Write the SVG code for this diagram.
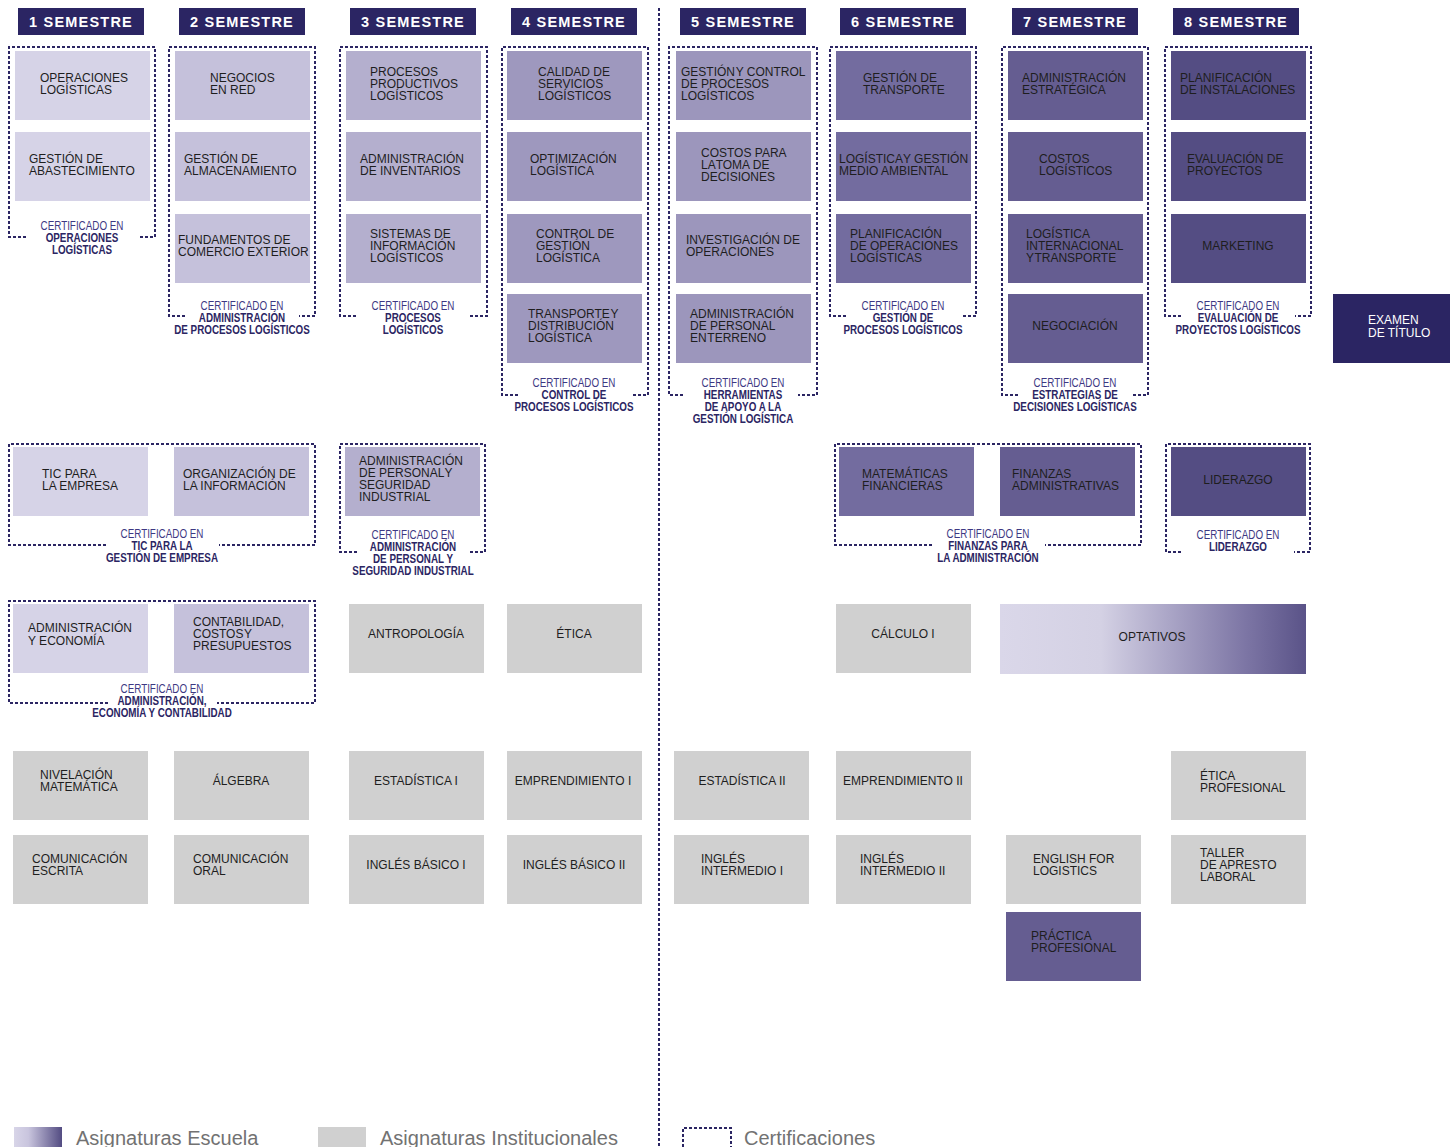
<svg xmlns="http://www.w3.org/2000/svg" width="1450" height="1147" viewBox="0 0 1450 1147">
<defs>
<linearGradient id="optGrad" x1="0" y1="0" x2="1" y2="0">
<stop offset="0" stop-color="#dad7e9"/>
<stop offset="0.33" stop-color="#d4d1e4"/>
<stop offset="0.55" stop-color="#aba6c7"/>
<stop offset="0.8" stop-color="#7d76a5"/>
<stop offset="1" stop-color="#5a5388"/>
</linearGradient>
<linearGradient id="legGrad" x1="0" y1="0" x2="1" y2="0">
<stop offset="0" stop-color="#d8d5e8"/>
<stop offset="0.3" stop-color="#c9c5de"/>
<stop offset="1" stop-color="#534c82"/>
</linearGradient>
<style>
.hdr{fill:#2b2563}
.ht{font-family:"Liberation Sans",Arial,sans-serif;font-weight:bold;font-size:14.5px;fill:#fff;text-anchor:middle;letter-spacing:1.2px}
.t{font-family:"Liberation Sans",Arial,sans-serif;font-size:12px;fill:#1e1e1e}
.tc{font-family:"Liberation Sans",Arial,sans-serif;font-size:12px;fill:#1e1e1e;text-anchor:middle}
.tw{font-family:"Liberation Sans",Arial,sans-serif;font-size:12px;fill:#fff}
.c1{fill:#d6d3e7}.c2{fill:#c5c1db}.c3{fill:#b4afce}.c4{fill:#9e98be}.c5{fill:#9c96bc}
.c6{fill:#736c9f}.c7{fill:#655d91}.c8{fill:#544d83}.gr{fill:#d0d0d0}.ex{fill:#2b2563}
.cert{fill:none;stroke:#2b2563;stroke-width:2;stroke-dasharray:3 2}
.ca{font-family:"Liberation Sans",Arial,sans-serif;font-size:12px;fill:#3d3883;text-anchor:middle}
.cb{font-family:"Liberation Sans",Arial,sans-serif;font-size:12px;font-weight:bold;fill:#2b2563;text-anchor:middle}
.leg{font-family:"Liberation Sans",Arial,sans-serif;font-size:20px;fill:#727272}
</style>
</defs>
<rect width="1450" height="1147" fill="#ffffff"/>

<!-- divider and certification frames -->
<g id="connectors">
<line x1="659" y1="8" x2="659" y2="1147" class="cert"/>
<path class="cert" d="M26,237 H9 V47 H155 V237 H140"/>
<path class="cert" d="M185,316 H169 V47 H315 V316 H299"/>
<path class="cert" d="M356,316 H340 V47 H487 V316 H470"/>
<path class="cert" d="M518,395 H502 V47 H648 V395 H631"/>
<path class="cert" d="M683,395 H669 V47 H817 V395 H798"/>
<path class="cert" d="M846,316 H830 V47 H976 V316 H961"/>
<path class="cert" d="M1018,395 H1002 V47 H1148 V395 H1131"/>
<path class="cert" d="M1181,316 H1165 V47 H1311 V316 H1295"/>
<path class="cert" d="M106,545 H9 V444 H315 V545 H219"/>
<path class="cert" d="M357,552 H340 V444 H485 V552 H468"/>
<path class="cert" d="M932,545 H835 V444 H1141 V545 H1045"/>
<path class="cert" d="M1181,552 H1166 V444 H1310 V552 H1294"/>
<path class="cert" d="M108,703 H9 V601 H315 V703 H217"/>
</g>

<!-- headers -->
<g id="headers">
<g id="h1"><rect class="hdr" x="18" y="8" width="126" height="27"/><text class="ht" x="81" y="27">1 SEMESTRE</text></g>
<g id="h2"><rect class="hdr" x="179" y="8" width="126" height="27"/><text class="ht" x="242" y="27">2 SEMESTRE</text></g>
<g id="h3"><rect class="hdr" x="350" y="8" width="126" height="27"/><text class="ht" x="413" y="27">3 SEMESTRE</text></g>
<g id="h4"><rect class="hdr" x="511" y="8" width="126" height="27"/><text class="ht" x="574" y="27">4 SEMESTRE</text></g>
<g id="h5"><rect class="hdr" x="680" y="8" width="126" height="27"/><text class="ht" x="743" y="27">5 SEMESTRE</text></g>
<g id="h6"><rect class="hdr" x="840" y="8" width="126" height="27"/><text class="ht" x="903" y="27">6 SEMESTRE</text></g>
<g id="h7"><rect class="hdr" x="1012" y="8" width="126" height="27"/><text class="ht" x="1075" y="27">7 SEMESTRE</text></g>
<g id="h8"><rect class="hdr" x="1173" y="8" width="126" height="27"/><text class="ht" x="1236" y="27">8 SEMESTRE</text></g>
</g>

<!-- semester 1 -->
<g id="n-operaciones-logisticas"><rect class="c1" x="15" y="51" width="135" height="69"/><text class="t"><tspan x="40" y="82">OPERACIONES</tspan><tspan x="40" y="94">LOGÍSTICAS</tspan></text></g>
<g id="n-gestion-abastecimiento"><rect class="c1" x="15" y="132" width="135" height="69"/><text class="t"><tspan x="29" y="163">GESTIÓN DE</tspan><tspan x="29" y="175">ABASTECIMIENTO</tspan></text></g>
<g id="cert-operaciones" transform="matrix(0.82,0,0,1,14.76,0)"><text class="ca" x="82" y="230">CERTIFICADO EN</text><text class="cb"><tspan x="82" y="242">OPERACIONES</tspan><tspan x="82" y="254">LOGÍSTICAS</tspan></text></g>

<!-- semester 2 -->
<g id="n-negocios-red"><rect class="c2" x="175" y="51" width="135" height="69"/><text class="t"><tspan x="210" y="82">NEGOCIOS</tspan><tspan x="210" y="94">EN RED</tspan></text></g>
<g id="n-gestion-almacenamiento"><rect class="c2" x="175" y="132" width="135" height="69"/><text class="t"><tspan x="184" y="163">GESTIÓN DE</tspan><tspan x="184" y="175">ALMACENAMIENTO</tspan></text></g>
<g id="n-fundamentos-comercio"><rect class="c2" x="175" y="214" width="135" height="69"/><text class="t"><tspan x="178" y="244">FUNDAMENTOS DE</tspan><tspan x="178" y="256">COMERCIO EXTERIOR</tspan></text></g>
<g id="cert-adm-procesos" transform="matrix(0.82,0,0,1,43.56,0)"><text class="ca" x="242" y="310">CERTIFICADO EN</text><text class="cb"><tspan x="242" y="322">ADMINISTRACIÓN</tspan><tspan x="242" y="334">DE PROCESOS LOGÍSTICOS</tspan></text></g>

<!-- semester 3 -->
<g id="n-procesos-productivos"><rect class="c3" x="346" y="51" width="135" height="69"/><text class="t"><tspan x="370" y="76">PROCESOS</tspan><tspan x="370" y="88">PRODUCTIVOS</tspan><tspan x="370" y="100">LOGÍSTICOS</tspan></text></g>
<g id="n-adm-inventarios"><rect class="c3" x="346" y="132" width="135" height="69"/><text class="t"><tspan x="360" y="163">ADMINISTRACIÓN</tspan><tspan x="360" y="175">DE INVENTARIOS</tspan></text></g>
<g id="n-sistemas-informacion"><rect class="c3" x="346" y="214" width="135" height="69"/><text class="t"><tspan x="370" y="238">SISTEMAS DE</tspan><tspan x="370" y="250">INFORMACIÓN</tspan><tspan x="370" y="262">LOGÍSTICOS</tspan></text></g>
<g id="cert-procesos" transform="matrix(0.82,0,0,1,74.34,0)"><text class="ca" x="413" y="310">CERTIFICADO EN</text><text class="cb"><tspan x="413" y="322">PROCESOS</tspan><tspan x="413" y="334">LOGÍSTICOS</tspan></text></g>

<!-- semester 4 -->
<g id="n-calidad-servicios"><rect class="c4" x="507" y="51" width="135" height="69"/><text class="t"><tspan x="538" y="76">CALIDAD DE</tspan><tspan x="538" y="88">SERVICIOS</tspan><tspan x="538" y="100">LOGÍSTICOS</tspan></text></g>
<g id="n-optimizacion"><rect class="c4" x="507" y="132" width="135" height="69"/><text class="t"><tspan x="530" y="163">OPTIMIZACIÓN</tspan><tspan x="530" y="175">LOGÍSTICA</tspan></text></g>
<g id="n-control-gestion"><rect class="c4" x="507" y="214" width="135" height="69"/><text class="t"><tspan x="536" y="238">CONTROL DE</tspan><tspan x="536" y="250">GESTIÓN</tspan><tspan x="536" y="262">LOGÍSTICA</tspan></text></g>
<g id="n-transporte-distribucion"><rect class="c4" x="507" y="294" width="135" height="69"/><text class="t"><tspan x="528" y="318">TRANSPORTE <tspan dx="-2.5">Y</tspan></tspan><tspan x="528" y="330">DISTRIBUCIÓN</tspan><tspan x="528" y="342">LOGÍSTICA</tspan></text></g>
<g id="cert-control-procesos" transform="matrix(0.82,0,0,1,103.32,0)"><text class="ca" x="574" y="387">CERTIFICADO EN</text><text class="cb"><tspan x="574" y="399">CONTROL DE</tspan><tspan x="574" y="411">PROCESOS LOGÍSTICOS</tspan></text></g>

<!-- semester 5 -->
<g id="n-gestion-control"><rect class="c5" x="676" y="51" width="135" height="69"/><text class="t"><tspan x="681" y="76">GESTIÓN <tspan dx="-2.5">Y CONTROL</tspan></tspan><tspan x="681" y="88">DE PROCESOS</tspan><tspan x="681" y="100">LOGÍSTICOS</tspan></text></g>
<g id="n-costos-decisiones"><rect class="c5" x="676" y="132" width="135" height="69"/><text class="t"><tspan x="701" y="157">COSTOS PARA</tspan><tspan x="701" y="169">LA <tspan dx="-2.5">TOMA DE</tspan></tspan><tspan x="701" y="181">DECISIONES</tspan></text></g>
<g id="n-investigacion-operaciones"><rect class="c5" x="676" y="214" width="135" height="69"/><text class="t"><tspan x="686" y="244">INVESTIGACIÓN DE</tspan><tspan x="686" y="256">OPERACIONES</tspan></text></g>
<g id="n-adm-personal-terreno"><rect class="c5" x="676" y="294" width="135" height="69"/><text class="t"><tspan x="690" y="318">ADMINISTRACIÓN</tspan><tspan x="690" y="330">DE PERSONAL</tspan><tspan x="690" y="342">EN <tspan dx="-2.5">TERRENO</tspan></tspan></text></g>
<g id="cert-herramientas" transform="matrix(0.82,0,0,1,133.74,0)"><text class="ca" x="743" y="387">CERTIFICADO EN</text><text class="cb"><tspan x="743" y="399">HERRAMIENTAS</tspan><tspan x="743" y="411">DE APOYO A LA</tspan><tspan x="743" y="423">GESTIÓN LOGÍSTICA</tspan></text></g>

<!-- semester 6 -->
<g id="n-gestion-transporte"><rect class="c6" x="836" y="51" width="135" height="69"/><text class="t"><tspan x="863" y="82">GESTIÓN DE</tspan><tspan x="863" y="94">TRANSPORTE</tspan></text></g>
<g id="n-logistica-medio-ambiental"><rect class="c6" x="836" y="132" width="135" height="69"/><text class="t"><tspan x="839" y="163">LOGÍSTICA <tspan dx="-2.5">Y GESTIÓN</tspan></tspan><tspan x="839" y="175">MEDIO AMBIENTAL</tspan></text></g>
<g id="n-planificacion-operaciones"><rect class="c6" x="836" y="214" width="135" height="69"/><text class="t"><tspan x="850" y="238">PLANIFICACIÓN</tspan><tspan x="850" y="250">DE OPERACIONES</tspan><tspan x="850" y="262">LOGÍSTICAS</tspan></text></g>
<g id="cert-gestion-procesos" transform="matrix(0.82,0,0,1,162.54,0)"><text class="ca" x="903" y="310">CERTIFICADO EN</text><text class="cb"><tspan x="903" y="322">GESTIÓN DE</tspan><tspan x="903" y="334">PROCESOS LOGÍSTICOS</tspan></text></g>

<!-- semester 7 -->
<g id="n-adm-estrategica"><rect class="c7" x="1008" y="51" width="135" height="69"/><text class="t"><tspan x="1022" y="82">ADMINISTRACIÓN</tspan><tspan x="1022" y="94">ESTRATÉGICA</tspan></text></g>
<g id="n-costos-logisticos"><rect class="c7" x="1008" y="132" width="135" height="69"/><text class="t"><tspan x="1039" y="163">COSTOS</tspan><tspan x="1039" y="175">LOGÍSTICOS</tspan></text></g>
<g id="n-logistica-internacional"><rect class="c7" x="1008" y="214" width="135" height="69"/><text class="t"><tspan x="1026" y="238">LOGÍSTICA</tspan><tspan x="1026" y="250">INTERNACIONAL</tspan><tspan x="1026" y="262">Y <tspan dx="-2.5">TRANSPORTE</tspan></tspan></text></g>
<g id="n-negociacion"><rect class="c7" x="1008" y="294" width="135" height="69"/><text class="tc" x="1075" y="330">NEGOCIACIÓN</text></g>
<g id="cert-estrategias" transform="matrix(0.82,0,0,1,193.5,0)"><text class="ca" x="1075" y="387">CERTIFICADO EN</text><text class="cb"><tspan x="1075" y="399">ESTRATEGIAS DE</tspan><tspan x="1075" y="411">DECISIONES LOGÍSTICAS</tspan></text></g>

<!-- semester 8 -->
<g id="n-planificacion-instalaciones"><rect class="c8" x="1171" y="51" width="135" height="69"/><text class="t"><tspan x="1180" y="82">PLANIFICACIÓN</tspan><tspan x="1180" y="94">DE INSTALACIONES</tspan></text></g>
<g id="n-evaluacion-proyectos"><rect class="c8" x="1171" y="132" width="135" height="69"/><text class="t"><tspan x="1187" y="163">EVALUACIÓN DE</tspan><tspan x="1187" y="175">PROYECTOS</tspan></text></g>
<g id="n-marketing"><rect class="c8" x="1171" y="214" width="135" height="69"/><text class="tc" x="1238" y="250">MARKETING</text></g>
<g id="cert-evaluacion" transform="matrix(0.82,0,0,1,222.84,0)"><text class="ca" x="1238" y="310">CERTIFICADO EN</text><text class="cb"><tspan x="1238" y="322">EVALUACIÓN DE</tspan><tspan x="1238" y="334">PROYECTOS LOGÍSTICOS</tspan></text></g>

<g id="n-examen-titulo"><rect class="ex" x="1333" y="294" width="117" height="69"/><text class="tw"><tspan x="1368" y="324">EXAMEN</tspan><tspan x="1368" y="337">DE TÍTULO</tspan></text></g>

<!-- second band -->
<g id="n-tic-empresa"><rect class="c1" x="13" y="447" width="135" height="69"/><text class="t"><tspan x="42" y="478">TIC PARA</tspan><tspan x="42" y="490">LA EMPRESA</tspan></text></g>
<g id="n-organizacion-informacion"><rect class="c2" x="174" y="447" width="135" height="69"/><text class="t"><tspan x="183" y="478">ORGANIZACIÓN DE</tspan><tspan x="183" y="490">LA INFORMACIÓN</tspan></text></g>
<g id="cert-tic" transform="matrix(0.82,0,0,1,29.16,0)"><text class="ca" x="162" y="538">CERTIFICADO EN</text><text class="cb"><tspan x="162" y="550">TIC PARA LA</tspan><tspan x="162" y="562">GESTIÓN DE EMPRESA</tspan></text></g>

<g id="n-adm-personal-seguridad"><rect class="c3" x="345" y="447" width="135" height="69"/><text class="t"><tspan x="359" y="465">ADMINISTRACIÓN</tspan><tspan x="359" y="477">DE PERSONAL <tspan dx="-2.5">Y</tspan></tspan><tspan x="359" y="489">SEGURIDAD</tspan><tspan x="359" y="501">INDUSTRIAL</tspan></text></g>
<g id="cert-adm-personal" transform="matrix(0.82,0,0,1,74.34,0)"><text class="ca" x="413" y="539">CERTIFICADO EN</text><text class="cb"><tspan x="413" y="551">ADMINISTRACIÓN</tspan><tspan x="413" y="563">DE PERSONAL Y</tspan><tspan x="413" y="575">SEGURIDAD INDUSTRIAL</tspan></text></g>

<g id="n-matematicas-financieras"><rect class="c6" x="839" y="447" width="135" height="69"/><text class="t"><tspan x="862" y="478">MATEMÁTICAS</tspan><tspan x="862" y="490">FINANCIERAS</tspan></text></g>
<g id="n-finanzas-administrativas"><rect class="c7" x="1000" y="447" width="135" height="69"/><text class="t"><tspan x="1012" y="478">FINANZAS</tspan><tspan x="1012" y="490">ADMINISTRATIVAS</tspan></text></g>
<g id="cert-finanzas" transform="matrix(0.82,0,0,1,177.84,0)"><text class="ca" x="988" y="538">CERTIFICADO EN</text><text class="cb"><tspan x="988" y="550">FINANZAS PARA</tspan><tspan x="988" y="562">LA ADMINISTRACIÓN</tspan></text></g>

<g id="n-liderazgo"><rect class="c8" x="1171" y="447" width="135" height="69"/><text class="tc" x="1238" y="484">LIDERAZGO</text></g>
<g id="cert-liderazgo" transform="matrix(0.82,0,0,1,222.84,0)"><text class="ca" x="1238" y="539">CERTIFICADO EN</text><text class="cb" x="1238" y="551">LIDERAZGO</text></g>

<!-- third band -->
<g id="n-adm-economia"><rect class="c1" x="13" y="604" width="135" height="69"/><text class="t"><tspan x="28" y="632">ADMINISTRACIÓN</tspan><tspan x="28" y="645">Y ECONOMÍA</tspan></text></g>
<g id="n-contabilidad"><rect class="c2" x="174" y="604" width="135" height="69"/><text class="t"><tspan x="193" y="626">CONTABILIDAD,</tspan><tspan x="193" y="638">COSTOS <tspan dx="-2.5">Y</tspan></tspan><tspan x="193" y="650">PRESUPUESTOS</tspan></text></g>
<g id="cert-adm-economia" transform="matrix(0.82,0,0,1,29.16,0)"><text class="ca" x="162" y="693">CERTIFICADO EN</text><text class="cb"><tspan x="162" y="705">ADMINISTRACIÓN,</tspan><tspan x="162" y="717">ECONOMÍA Y CONTABILIDAD</tspan></text></g>
<g id="n-antropologia"><rect class="gr" x="349" y="604" width="135" height="69"/><text class="tc" x="416" y="638">ANTROPOLOGÍA</text></g>
<g id="n-etica"><rect class="gr" x="507" y="604" width="135" height="69"/><text class="tc" x="574" y="638">ÉTICA</text></g>
<g id="n-calculo"><rect class="gr" x="836" y="604" width="135" height="69"/><text class="tc" x="903" y="638">CÁLCULO I</text></g>
<g id="n-optativos"><rect x="1000" y="604" width="306" height="70" fill="url(#optGrad)"/><text class="tc" x="1152" y="641">OPTATIVOS</text></g>

<!-- fourth band -->
<g id="n-nivelacion"><rect class="gr" x="13" y="751" width="135" height="69"/><text class="t"><tspan x="40" y="779">NIVELACIÓN</tspan><tspan x="40" y="791">MATEMÁTICA</tspan></text></g>
<g id="n-algebra"><rect class="gr" x="174" y="751" width="135" height="69"/><text class="tc" x="241" y="785">ÁLGEBRA</text></g>
<g id="n-estadistica1"><rect class="gr" x="349" y="751" width="135" height="69"/><text class="tc" x="416" y="785">ESTADÍSTICA I</text></g>
<g id="n-emprendimiento1"><rect class="gr" x="507" y="751" width="135" height="69"/><text class="tc" x="573" y="785">EMPRENDIMIENTO I</text></g>
<g id="n-estadistica2"><rect class="gr" x="674" y="751" width="135" height="69"/><text class="tc" x="742" y="785">ESTADÍSTICA II</text></g>
<g id="n-emprendimiento2"><rect class="gr" x="836" y="751" width="135" height="69"/><text class="tc" x="903" y="785">EMPRENDIMIENTO II</text></g>
<g id="n-etica-profesional"><rect class="gr" x="1171" y="751" width="135" height="69"/><text class="t"><tspan x="1200" y="780">ÉTICA</tspan><tspan x="1200" y="792">PROFESIONAL</tspan></text></g>

<!-- fifth band -->
<g id="n-com-escrita"><rect class="gr" x="13" y="835" width="135" height="69"/><text class="t"><tspan x="32" y="863">COMUNICACIÓN</tspan><tspan x="32" y="875">ESCRITA</tspan></text></g>
<g id="n-com-oral"><rect class="gr" x="174" y="835" width="135" height="69"/><text class="t"><tspan x="193" y="863">COMUNICACIÓN</tspan><tspan x="193" y="875">ORAL</tspan></text></g>
<g id="n-ingles-basico1"><rect class="gr" x="349" y="835" width="135" height="69"/><text class="tc" x="416" y="869">INGLÉS BÁSICO I</text></g>
<g id="n-ingles-basico2"><rect class="gr" x="507" y="835" width="135" height="69"/><text class="tc" x="574" y="869">INGLÉS BÁSICO II</text></g>
<g id="n-ingles-intermedio1"><rect class="gr" x="674" y="835" width="135" height="69"/><text class="t"><tspan x="701" y="863">INGLÉS</tspan><tspan x="701" y="875">INTERMEDIO I</tspan></text></g>
<g id="n-ingles-intermedio2"><rect class="gr" x="836" y="835" width="135" height="69"/><text class="t"><tspan x="860" y="863">INGLÉS</tspan><tspan x="860" y="875">INTERMEDIO II</tspan></text></g>
<g id="n-english-logistics"><rect class="gr" x="1006" y="835" width="135" height="69"/><text class="t"><tspan x="1033" y="863">ENGLISH FOR</tspan><tspan x="1033" y="875">LOGISTICS</tspan></text></g>
<g id="n-taller-apresto"><rect class="gr" x="1171" y="835" width="135" height="69"/><text class="t"><tspan x="1200" y="857">TALLER</tspan><tspan x="1200" y="869">DE APRESTO</tspan><tspan x="1200" y="881">LABORAL</tspan></text></g>
<g id="n-practica"><rect class="c7" x="1006" y="912" width="135" height="69"/><text class="t"><tspan x="1031" y="940">PRÁCTICA</tspan><tspan x="1031" y="952">PROFESIONAL</tspan></text></g>

<!-- legend -->
<g id="legend">
<rect x="14" y="1127" width="48" height="20" fill="url(#legGrad)"/>
<text class="leg" x="76" y="1145">Asignaturas Escuela</text>
<rect class="gr" x="318" y="1127" width="48" height="20"/>
<text class="leg" x="380" y="1145">Asignaturas Institucionales</text>
<path class="cert" d="M683,1147 V1128 H731 V1147"/>
<text class="leg" x="744" y="1145">Certificaciones</text>
</g>
</svg>
